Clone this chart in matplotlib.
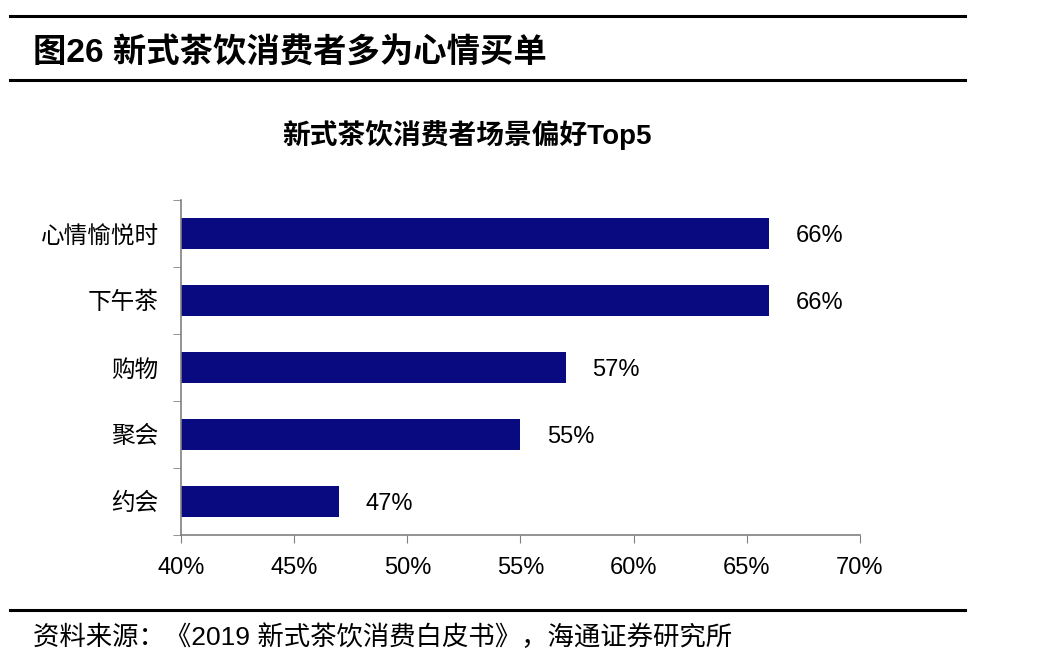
import matplotlib.pyplot as plt
from matplotlib.lines import Line2D
from matplotlib.ticker import FixedLocator, PercentFormatter

plt.rcParams['font.family'] = ['Liberation Sans', 'Noto Sans CJK SC', 'DejaVu Sans']

# data
categories = ['心情愉悦时', '下午茶', '购物', '聚会', '约会']
values = [66, 66, 57, 55, 47]
xticks = [40, 45, 50, 55, 60, 65, 70]

fig = plt.figure(figsize=(10.42, 6.66), dpi=100)
fig.patch.set_facecolor('white')

# header / footer rules
for y in (0.976, 0.880, 0.084):
    fig.add_artist(Line2D([0.0096, 0.926], [y, y], color='black', lw=2.2,
                          transform=fig.transFigure))

fig.text(0.032, 0.92, '图26 新式茶饮消费者多为心情买单', fontsize=24,
         fontweight='bold', va='center', ha='left')
fig.text(0.448, 0.797, '新式茶饮消费者场景偏好Top5', fontsize=20,
         fontweight='bold', va='center', ha='center')
fig.text(0.032, 0.044, '资料来源：《2019 新式茶饮消费白皮书》，海通证券研究所',
         fontsize=19, va='center', ha='left')

ax = fig.add_axes([0.1737, 0.1967, 0.6516, 0.503])
ypos = list(range(len(categories)))
ax.barh(ypos, values, height=0.45, color='#0a0a80', left=0)
ax.set_xlim(40, 70)
ax.set_ylim(len(categories) - 0.5, -0.5)

for y, v in zip(ypos, values):
    ax.annotate(f'{v}%', xy=(v, y), xytext=(19, -2), textcoords='offset points',
                va='center', ha='left', fontsize=17)

ax.set_xticks(xticks)
ax.xaxis.set_major_formatter(PercentFormatter(decimals=0))
ax.set_yticks(ypos)
ax.set_yticklabels(categories, fontsize=17, family=['Noto Sans CJK SC'])
ax.yaxis.set_minor_locator(FixedLocator([i - 0.5 for i in range(len(categories) + 1)]))
ax.tick_params(axis='y', which='major', length=0, pad=16)
ax.tick_params(axis='y', which='minor', length=6, color='#808080', direction='out')
ax.tick_params(axis='x', length=6, color='#808080', labelsize=17, pad=10)

for side in ('top', 'right'):
    ax.spines[side].set_visible(False)
for side in ('left', 'bottom'):
    ax.spines[side].set_color('#808080')
    ax.spines[side].set_linewidth(1.2)

fig.savefig('out.png', dpi=100)
